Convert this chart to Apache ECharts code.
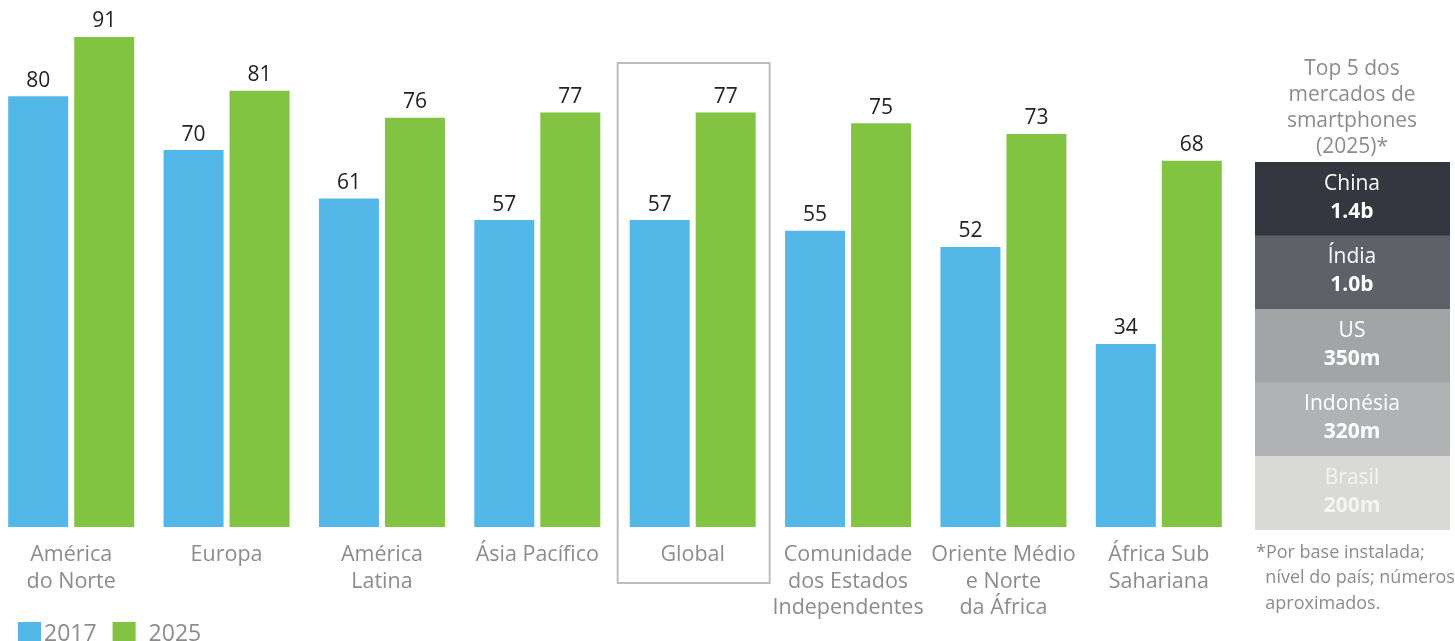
<!DOCTYPE html>
<html>
<head>
<meta charset="utf-8">
<script src="https://cdn.jsdelivr.net/npm/echarts@6/dist/echarts.min.js"></script>
<style>
  html, body { margin: 0; padding: 0; background: #fff; }
  #main { width: 1455px; height: 641px; }
</style>
</head>
<body>
<div id="main"></div>
<script>
// dados
const regioes = ['América\ndo Norte', 'Europa', 'América\nLatina', 'Ásia Pacífico', 'Global',
  'Comunidade\ndos Estados\nIndependentes', 'Oriente Médio\ne Norte\nda África', 'África Sub\nSahariana'];
const valores2017 = [80, 70, 61, 57, 57, 55, 52, 34];
const valores2025 = [91, 81, 76, 77, 77, 75, 73, 68];
const mercados = ['China', 'Índia', 'US', 'Indonésia', 'Brasil'];
const mercadosValor = ['1.4b', '1.0b', '350m', '320m', '200m'];
const coresMercados = ['#343640', '#5e6168', '#a2a4a6', '#b0b2b3', '#d9d9d7'];
const coresTextoMercados = ['#fff', '#fff', '#fff', '#fff', '#f4f4f4'];

const fonte = '"Open Sans", "Noto Sans", sans-serif';
let chart = echarts.init(document.getElementById('main'));

const painel = [];
painel.push({
  type: 'text', x: 1352, y: 56,
  style: {
    text: 'Top 5 dos\nmercados de\nsmartphones\n(2025)*',
    fill: '#8c8c8c', font: '21px ' + fonte, lineHeight: 26,
    align: 'center', verticalAlign: 'top'
  }
});
mercados.forEach((m, i) => {
  let y = 162 + i * 73.5;
  painel.push({
    type: 'rect', shape: { x: 1255, y: y, width: 195, height: 74 },
    style: { fill: coresMercados[i] }
  });
  painel.push({
    type: 'text', x: 1352, y: y + 22,
    style: { text: m, fill: coresTextoMercados[i], font: '21px ' + fonte, align: 'center', verticalAlign: 'middle' }
  });
  painel.push({
    type: 'text', x: 1352, y: y + 50,
    style: { text: mercadosValor[i], fill: coresTextoMercados[i], font: 'bold 21px ' + fonte, align: 'center', verticalAlign: 'middle' }
  });
});
painel.push({
  type: 'text', left: 1256, top: 540,
  style: {
    text: '*Por base instalada;\n  nível do país; números\n  aproximados.',
    fill: '#8c8c8c', font: '18px ' + fonte, lineHeight: 25.5
  }
});

chart.setOption({
  animation: false,
  textStyle: { fontFamily: fonte },
  color: ['#53b8e8', '#82c341'],
  legend: {
    left: 13, top: 617,
    itemWidth: 23, itemHeight: 24, itemGap: 16,
    icon: 'rect',
    textStyle: { color: '#8c8c8c', fontSize: 23, fontFamily: fonte, padding: [0, 0, 0, -2] },
    data: ['2017', { name: '2025', textStyle: { padding: [0, 0, 0, 8] } }]
  },
  grid: { left: -6.5, width: 1243, top: 37, bottom: 114, outerBoundsMode: 'none', containLabel: false },
  xAxis: {
    type: 'category',
    data: regioes,
    axisLine: { show: false },
    axisTick: { show: false },
    axisLabel: { color: '#8c8c8c', fontSize: 21.5, lineHeight: 26.5, margin: 15, interval: 0, fontFamily: fonte }
  },
  yAxis: { type: 'value', min: 0, max: 91, show: false, splitLine: { show: false } },
  series: [
    {
      name: '2017', type: 'bar', data: valores2017, barWidth: 60, barGap: '10%',
      label: { show: true, position: 'top', color: '#222', fontSize: 21, distance: 5, fontFamily: fonte }
    },
    {
      name: '2025', type: 'bar', data: valores2025, barWidth: 60, barGap: '10%',
      label: { show: true, position: 'top', color: '#222', fontSize: 21, distance: 5, fontFamily: fonte }
    }
  ],
  graphic: painel
});

// caixa em volta de "Global"
let cx = chart.convertToPixel({ xAxisIndex: 0 }, 4);
painel.push({
  type: 'rect', shape: { x: cx - 75, y: 63, width: 152, height: 520 },
  style: { fill: 'none', stroke: '#bdbdbd', lineWidth: 2 }
});
chart.setOption({ graphic: painel });
</script>
</body>
</html>
